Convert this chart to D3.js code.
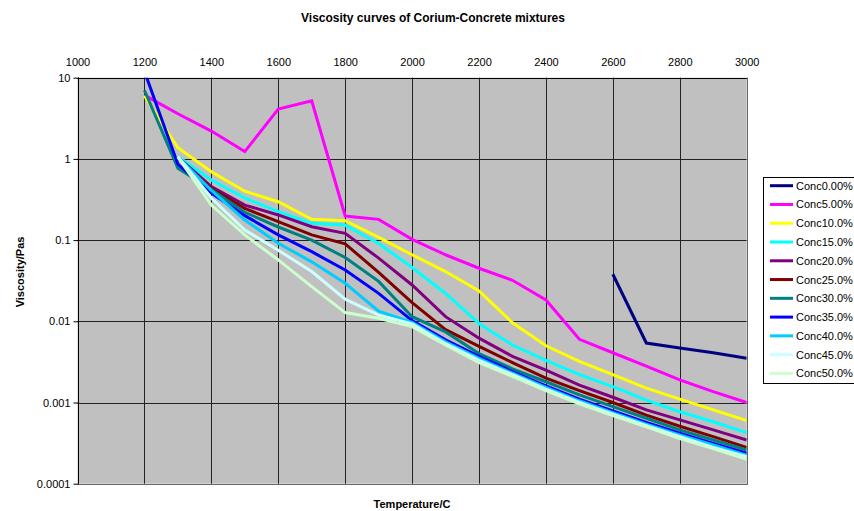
<!DOCTYPE html>
<html><head><meta charset="utf-8">
<script src="https://cdn.jsdelivr.net/npm/d3@7"></script>
<style>body{margin:0;background:#fff}svg{display:block;font-family:"Liberation Sans",Arial,sans-serif}</style>
</head><body><svg id="c" width="854" height="511"></svg>
<script>
const temps = [1200,1300,1400,1500,1600,1700,1800,1900,2000,2100,2200,2300,2400,2500,2600,2700,2800,2900,3000];
const seriesNames = ["Conc0.00%","Conc5.00%","Conc10.0%","Conc15.0%","Conc20.0%","Conc25.0%","Conc30.0%","Conc35.0%","Conc40.0%","Conc45.0%","Conc50.0%"];
const seriesColors = ["#000080","#FF00FF","#FFFF00","#00FFFF","#800080","#800000","#008080","#0000FF","#00CCFF","#CCFFFF","#CCFFCC"];
const c0  = [null,null,null,null,null,null,null,null,null,null,null,null,null,null,0.038,0.0054,0.0047,0.0041,0.0035];
const c5  = [6.1,3.6,2.2,1.23,4.1,5.2,0.198,0.18,0.102,0.066,0.045,0.032,0.0183,0.006,0.0041,0.0028,0.0019,0.00136,0.001];
const c10 = [6.0,1.37,0.695,0.40,0.297,0.18,0.173,0.108,0.066,0.041,0.0236,0.0096,0.005,0.0032,0.0022,0.0015,0.0011,0.00081,0.0006];
const c15 = [null,1.07,0.55,0.33,0.224,0.161,0.153,0.091,0.046,0.022,0.0094,0.0051,0.0033,0.0022,0.00157,0.00107,0.00077,0.00058,0.000425];
const c20 = [null,1.05,0.455,0.27,0.204,0.146,0.121,0.06,0.028,0.0114,0.0062,0.0037,0.0025,0.00164,0.00116,0.00081,0.00061,0.00046,0.000345];
const c25 = [null,1.0,0.43,0.245,0.169,0.116,0.09,0.04,0.017,0.0079,0.0049,0.0031,0.0020,0.0014,0.001,0.0007,0.00051,0.00038,0.00028];
const c30 = [7.0,0.77,0.42,0.22,0.145,0.1,0.061,0.031,0.0114,0.0074,0.0040,0.0026,0.0018,0.00124,0.00089,0.00064,0.00046,0.000345,0.00026];
const c35 = [12,0.86,0.38,0.2,0.116,0.072,0.0428,0.0221,0.0102,0.0059,0.0037,0.0024,0.0016,0.0011,0.00079,0.00057,0.00042,0.000314,0.000237];
const c40 = [null,1.05,0.41,0.177,0.0914,0.054,0.0294,0.0133,0.0097,0.0056,0.0035,0.0023,0.00153,0.00105,0.00075,0.00054,0.0004,0.0003,0.000225];
const c45 = [null,1.07,0.33,0.133,0.075,0.041,0.0187,0.0119,0.0093,0.0053,0.0033,0.0022,0.00146,0.001,0.00072,0.00052,0.00038,0.00028,0.000215];
const c50 = [null,1.05,0.27,0.116,0.057,0.0267,0.0128,0.0109,0.0086,0.0051,0.0031,0.0021,0.0014,0.00096,0.00069,0.0005,0.00036,0.00027,0.0002];
const xTicks = [1000,1200,1400,1600,1800,2000,2200,2400,2600,2800,3000];
const yTicks = [10,1,0.1,0.01,0.001,0.0001];
const yTickLabels = ["10","1","0.1","0.01","0.001","0.0001"];

const allSeries = [c0,c5,c10,c15,c20,c25,c30,c35,c40,c45,c50];
const svg = d3.select("#c");
const L = 77.5, R = 746.7, T = 77.7, B = 483.7;
const x = d3.scaleLinear().domain([1000,3000]).range([L,R]);
const y = d3.scaleLog().domain([0.0001,10]).range([B,T]);

svg.append("text").attr("x",433).attr("y",22).attr("text-anchor","middle")
  .attr("font-size",12).attr("font-weight","bold").text("Viscosity curves of Corium-Concrete mixtures");

svg.append("rect").attr("x",L).attr("y",T).attr("width",R-L).attr("height",B-T).attr("fill","#C0C0C0");
svg.append("defs").append("clipPath").attr("id","clip").append("rect")
  .attr("x",L).attr("y",T).attr("width",R-L).attr("height",B-T);

// grid
const g = svg.append("g");
g.selectAll("line.v").data(xTicks).enter().append("line")
  .attr("x1",d=>Math.round(x(d))+0.5).attr("x2",d=>Math.round(x(d))+0.5)
  .attr("y1",T).attr("y2",B).attr("stroke","#222").attr("stroke-width",1);
g.selectAll("line.h").data(yTicks).enter().append("line")
  .attr("y1",d=>Math.round(y(d))+0.5).attr("y2",d=>Math.round(y(d))+0.5)
  .attr("x1",L).attr("x2",R).attr("stroke","#222").attr("stroke-width",1);
svg.append("rect").attr("x",Math.round(L)+0.5).attr("y",Math.round(T)+0.5)
  .attr("width",Math.round(R)-Math.round(L)).attr("height",Math.round(B)-Math.round(T))
  .attr("fill","none").attr("stroke","#666");
svg.append("line").attr("x1",Math.round(L)+0.5).attr("x2",Math.round(L)+0.5).attr("y1",T).attr("y2",B).attr("stroke","#000");
svg.append("line").attr("x1",L).attr("x2",R).attr("y1",Math.round(T)+0.5).attr("y2",Math.round(T)+0.5).attr("stroke","#000");

// axes
const yAxis = d3.axisLeft(y).tickValues(yTicks).tickFormat((d,i)=>yTickLabels[i]).tickSize(5).tickPadding(3);
const ya = svg.append("g").attr("transform",`translate(${Math.round(L)+0.5},0)`).call(yAxis);
ya.select(".domain").remove();
ya.selectAll("text").attr("font-size",11).attr("font-family","Liberation Sans, Arial, sans-serif").attr("fill","#000");
ya.selectAll("line").attr("stroke","#000");

const xAxis = d3.axisTop(x).tickValues(xTicks).tickFormat(d3.format("d")).tickSize(0).tickPadding(12);
const xa = svg.append("g").attr("transform",`translate(0,${T})`).call(xAxis);
xa.select(".domain").remove();
xa.selectAll("text").attr("font-size",11).attr("font-family","Liberation Sans, Arial, sans-serif").attr("fill","#000");

svg.append("text").attr("transform","translate(24,272) rotate(-90)").attr("text-anchor","middle")
  .attr("font-size",11).attr("font-weight","bold").text("Viscosity/Pas");
svg.append("text").attr("x",412).attr("y",508).attr("text-anchor","middle")
  .attr("font-size",11).attr("font-weight","bold").text("Temperature/C");

// lines
const line = d3.line().defined(d=>d.v!=null).x(d=>x(d.t)).y(d=>y(d.v));
const lg = svg.append("g").attr("clip-path","url(#clip)");
allSeries.forEach((s,i)=>{
  lg.append("path").datum(temps.map((t,j)=>({t:t,v:s[j]})))
    .attr("d",line).attr("fill","none").attr("stroke",seriesColors[i])
    .attr("stroke-width",3).attr("stroke-linejoin","miter");
});

// legend
const leg = svg.append("g");
leg.append("rect").attr("x",763.5).attr("y",177.5).attr("width",100).attr("height",206)
  .attr("fill","#fff").attr("stroke","#000");
seriesNames.forEach((n,i)=>{
  const yy = 185.7 + i*18.77;
  leg.append("line").attr("x1",770).attr("x2",793).attr("y1",yy).attr("y2",yy)
    .attr("stroke",seriesColors[i]).attr("stroke-width",3);
  leg.append("text").attr("x",796).attr("y",yy+4).attr("font-size",11).text(n);
});
</script></body></html>
